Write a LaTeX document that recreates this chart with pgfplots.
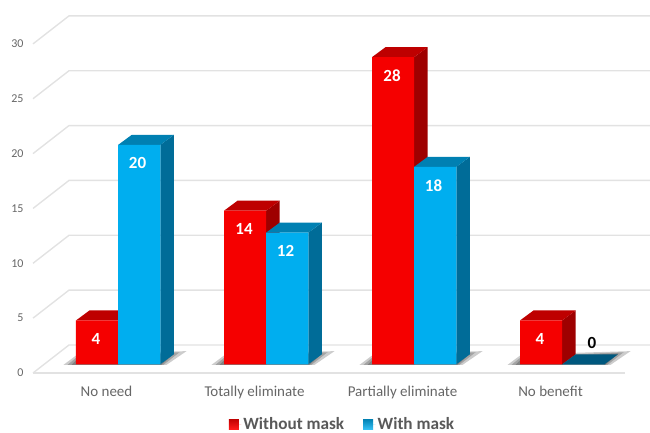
\documentclass[border=0pt]{standalone}
\usepackage{fontspec}
\setmainfont{Carlito}
\usepackage{pgfplots}
\pgfplotsset{compat=1.18}

\definecolor{gridc}{HTML}{E2E2E2}
\definecolor{redfront}{HTML}{F50000}
\definecolor{redtop}{HTML}{BE0000}
\definecolor{redside}{HTML}{9E0000}
\definecolor{bluefront}{HTML}{00AEEF}
\definecolor{bluetop}{HTML}{0080B2}
\definecolor{blueside}{HTML}{006C98}
\definecolor{bluezero}{HTML}{00587E}
\definecolor{txt}{HTML}{666666}
\definecolor{legtxt}{HTML}{595959}

% one slanted grid row: front edge, wall corner, far right
\newcommand{\gridrow}[1]{
  \pgfmathsetmacro\yf{#1-0.793}
  \pgfmathsetmacro\yb{#1+1.76}
  \addplot[forget plot, gridc, line width=1.4pt] coordinates {(-0.4966,\yf) (-0.2534,\yb) (3.672,\yb)};
}
% top and side of a bar: group, value, left offset in pt, top colour, side colour
\newcommand{\barbody}[5]{
  \pgfmathsetmacro\xl{#1+(#3)/148}
  \pgfmathsetmacro\xr{#1+(#3+42.15)/148}
  \pgfmathsetmacro\xlb{#1+(#3+13.5)/148}
  \pgfmathsetmacro\xrb{#1+(#3+55.65)/148}
  \pgfmathsetmacro\yt{#2+0.91}
  \addplot[forget plot, draw=none, fill=#5] coordinates {(\xr,0) (\xrb,0.91) (\xrb,\yt) (\xr,#2)} --cycle;
  \addplot[forget plot, draw=none, fill=#4] coordinates {(\xl,#2) (\xr,#2) (\xrb,\yt) (\xlb,\yt)} --cycle;
}
% one layer of the floor shadow: group, left tip, corner height, top right, its height, bottom right
\newcommand{\shadowlayer}[6]{
  \pgfmathsetmacro\sa{#1+(#2)/148}
  \pgfmathsetmacro\sb{#1-29/148}
  \pgfmathsetmacro\sc{#1+(#4)/148}
  \pgfmathsetmacro\sd{#1+(#6)/148}
  \addplot[forget plot, draw=none, fill=black, fill opacity=0.2] coordinates {(\sa,-0.05) (\sb,#3) (\sc,#5) (\sd,-0.05)} --cycle;
}
\newcommand{\shadow}[1]{
  \shadowlayer{#1}{-43}{0.9}{80}{1.2}{60}
  \shadowlayer{#1}{-39}{0.7}{73}{1.1}{57}
  \shadowlayer{#1}{-35}{0.5}{68}{1.0}{55}
}

\begin{document}
\begin{tikzpicture}
\path[use as bounding box] (-33pt,-60pt) rectangle (617pt,373pt);
\begin{axis}[
    scale only axis,
    width=617pt,
    height=357pt,
    xmin=-0.4966, xmax=3.672,
    ymin=-0.793, ymax=31.75,
    clip=false,
    axis line style={draw=none},
    major tick length=0pt,
    xtick={0,1,2,3},
    xticklabels={No need, Totally eliminate, Partially eliminate, No benefit},
    ytick={0,5,10,15,20,25,30},
    /pgf/number format/assume math mode=true,
    x tick label style={font=\fontsize{15}{17}\selectfont, text=txt, yshift=-10pt},
    y tick label style={font=\fontsize{12}{14}\selectfont, text=txt, yshift=-8.7pt, xshift=-6pt},
    legend columns=2,
    legend style={
        at={(rel axis cs:0.5016,-0.1429)}, anchor=center, draw=none, fill=none,
        font=\fontsize{17.2}{19}\selectfont\bfseries, text=legtxt,
        /tikz/every even column/.append style={column sep=17pt},
    },
    bar width=42.15pt,
    every node near coord/.append style={
        anchor=center, yshift=-18.5pt, text=white,
        font=\fontsize{17}{19}\selectfont\bfseries,
    },
]

% grid
\gridrow{0}
\gridrow{5}
\gridrow{10}
\gridrow{15}
\gridrow{20}
\gridrow{25}
\gridrow{30}
\addplot[forget plot, gridc, line width=1.4pt] coordinates {(-0.4966,-0.793) (3.503,-0.793)};

% shadows
\shadow{0}
\shadow{1}
\shadow{2}
\shadow{3}

% Without mask
\barbody{0}{4}{-30.5}{redtop}{redside}
\barbody{1}{14}{-30.5}{redtop}{redside}
\barbody{2}{28}{-30.5}{redtop}{redside}
\barbody{3}{4}{-30.5}{redtop}{redside}
\addplot[ybar, bar shift=-9.43pt, draw=none, fill=redfront,
    nodes near coords,
    every node near coord/.append style={xshift=-10.5pt},
    legend image code/.code={\path (0pt,0pt) -- (12.5pt,0pt); \shade[top color=red!75!black, bottom color=red!90!white] (0pt,-5pt) rectangle (10pt,5pt);}]
    coordinates {(0,4) (1,14) (2,28) (3,4)};
\addlegendentry{Without mask}

% With mask
\barbody{0}{20}{11.65}{bluetop}{blueside}
\barbody{1}{12}{11.65}{bluetop}{blueside}
\barbody{2}{18}{11.65}{bluetop}{blueside}
\barbody{3}{0}{11.65}{bluezero}{bluezero}
\addplot[ybar, bar shift=32.72pt, draw=none, fill=bluefront,
    nodes near coords,
    every node near coord/.append style={xshift=31pt},
    legend image code/.code={\path (0pt,0pt) -- (12.5pt,0pt); \shade[top color=bluetop, bottom color=bluefront!80!white] (0pt,-5pt) rectangle (10pt,5pt);}]
    coordinates {(0,20) (1,12) (2,18)};
\addlegendentry{With mask}
\addplot[forget plot, ybar, bar shift=32.72pt, draw=none, fill=bluefront,
    nodes near coords,
    every node near coord/.append style={text=black, yshift=39.5pt, xshift=41.5pt}]
    coordinates {(3,0)};

\end{axis}
\end{tikzpicture}
\end{document}
